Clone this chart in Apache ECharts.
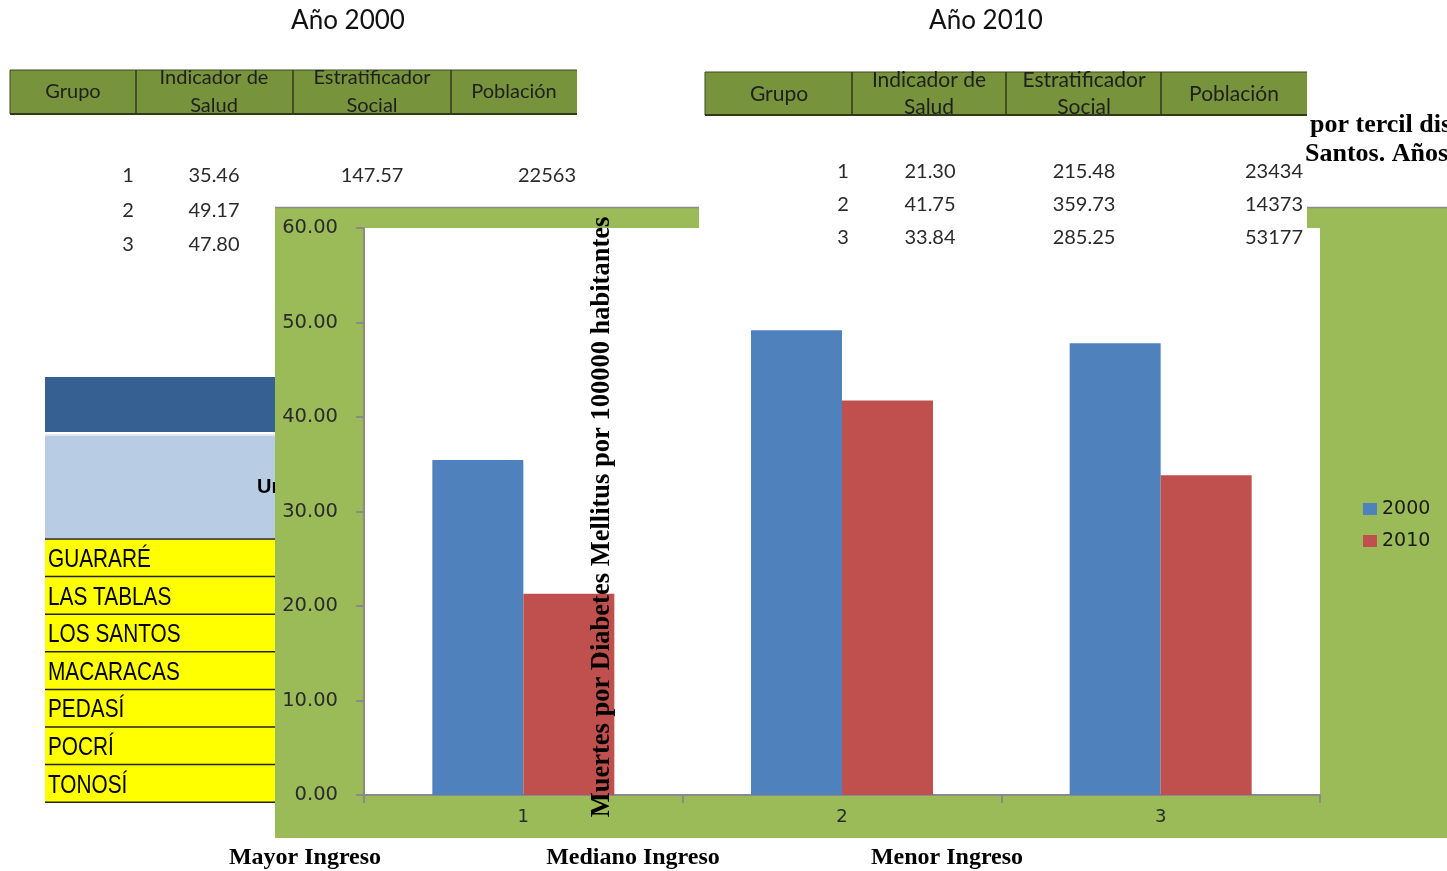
<!DOCTYPE html>
<html>
<head>
<meta charset="utf-8">
<title>Muertes por Diabetes Mellitus por tercil de ingreso</title>
<script src="https://cdn.jsdelivr.net/npm/echarts@6/dist/echarts.min.js"></script>
<style>
  html, body { margin: 0; padding: 0; background: #ffffff; }
  #chart { width: 1447px; height: 871px; }
</style>
</head>
<body>
<div id="chart"></div>
<script>
// Income terciles (groups) and the health indicator per year
const grupos = ['1', '2', '3'];
const anos = ['2000', '2010'];
const indicador2000 = [35.46, 49.17, 47.80];
const indicador2010 = [21.30, 41.75, 33.84];
const etiquetasIngreso = ['Mayor Ingreso', 'Mediano Ingreso', 'Menor Ingreso'];

// Table headers and rows shown above the chart
const encabezados = [['Grupo'], ['Indicador de', 'Salud'], ['Estratificador', 'Social'], ['Población']];
const tabla2000 = [
  ['1', '35.46', '147.57', '22563'],
  ['2', '49.17'],
  ['3', '47.80']
];
const tabla2010 = [
  ['1', '21.30', '215.48', '23434'],
  ['2', '41.75', '359.73', '14373'],
  ['3', '33.84', '285.25', '53177']
];
const distritos = ['GUARARÉ', 'LAS TABLAS', 'LOS SANTOS', 'MACARACAS', 'PEDASÍ', 'POCRÍ', 'TONOSÍ'];

const AZUL = '#4f81bd', ROJO = '#c0504d', VERDE = '#9bbb59', VERDE_OSC = '#77933c';
const SANS = 'Lato, "Open Sans", sans-serif';
const SERIF = '"Liberation Serif", "DejaVu Serif", serif';
const EJE = '"DejaVu Sans", Verdana, sans-serif';

function txt(x, y, text, font, opts) {
  opts = opts || {};
  return {
    type: 'text', x: x, y: y, z: opts.z != null ? opts.z : 5,
    rotation: opts.rotation || 0, scaleX: opts.scaleX || 1,
    style: {
      text: text, font: font, fill: opts.fill || '#1a1a1a',
      textAlign: opts.align || 'center', align: opts.align || 'center',
      textVerticalAlign: 'middle', verticalAlign: 'middle'
    }
  };
}
function rect(x, y, w, h, fill, z, stroke, lw) {
  return {
    type: 'rect', z: z, shape: { x: x, y: y, width: w, height: h },
    style: { fill: fill, stroke: stroke || null, lineWidth: lw || 0 }
  };
}
function line(x1, y1, x2, y2, color, lw, z) {
  return {
    type: 'line', z: z, shape: { x1: x1, y1: y1, x2: x2, y2: y2 },
    style: { stroke: color, lineWidth: lw }
  };
}

// Header band of a small data table
function cabecera(x0, y0, x1, y1, divs, centers, yTop, yMid, yBot, fs, z) {
  const els = [rect(x0, y0, x1 - x0, y1 - y0, VERDE_OSC, z)];
  els.push(line(x0, y0, x1, y0, '#3d4d20', 1, z + 1));
  els.push(line(x0, y1, x1, y1, '#2e3a18', 2, z + 3));
  els.push(line(x0, y0, x0, y1, '#3d4d20', 1, z + 1));
  divs.forEach(d => els.push(line(d, y0, d, y1, '#2e3a18', 1.5, z + 1)));
  encabezados.forEach((h, i) => {
    if (h.length === 1) {
      els.push(txt(centers[i], yMid, h[0], fs + 'px ' + SANS, { z: z + 1, fill: '#1f1f1f' }));
    } else {
      els.push(txt(centers[i], yTop, h[0], fs + 'px ' + SANS, { z: z + 1, fill: '#1f1f1f' }));
      els.push(txt(centers[i], yBot, h[1], fs + 'px ' + SANS, { z: z + 1, fill: '#1f1f1f' }));
    }
  });
  // header text is cut by the lower border
  els.push(rect(x0, y1 + 1, x1 - x0, 9, '#ffffff', z + 2));
  return els;
}

const graficos = [];

// Chart backdrop
graficos.push(rect(275, 208, 1172, 630, VERDE, -10));
graficos.push(line(275, 207.5, 1447, 207.5, '#8c8c8c', 1.5, -9));

// Year titles
graficos.push(txt(348, 21, 'Año 2000', '26px ' + SANS, { fill: '#111' }));
graficos.push(txt(986, 21, 'Año 2010', '26px ' + SANS, { fill: '#111' }));

// Table 2000
cabecera(10, 70, 577, 114, [136, 293, 451], [73, 214, 372, 514], 78, 92, 106, 20, 2)
  .forEach(e => graficos.push(e));
const cols2000 = [128, 214, 372, 547];
const filas2000 = [176, 211, 245];
tabla2000.forEach((fila, r) => fila.forEach((v, c) => {
  graficos.push(txt(cols2000[c], filas2000[r], v, '20px ' + SANS, { z: -20, fill: '#2a2a2a' }));
}));

// White panel carrying table 2010
graficos.push(rect(699, 60, 608, 168, '#ffffff', 1));
cabecera(705, 72, 1307, 115, [852, 1006, 1161], [779, 929, 1084, 1234], 80, 94, 107, 21, 3)
  .forEach(e => graficos.push(e));
const cols2010 = [843, 930, 1084, 1303];
const filas2010 = [172, 205, 238];
tabla2010.forEach((fila, r) => fila.forEach((v, c) => {
  graficos.push(txt(cols2010[c], filas2010[r], v, '20px ' + SANS,
    { z: 10, fill: '#2a2a2a', align: c === 3 ? 'right' : 'center' }));
}));

// Caption fragment on the right edge
graficos.push(txt(1310, 125, 'por tercil dis', 'bold 26px ' + SERIF, { align: 'left', fill: '#000', z: 6 }));
graficos.push(txt(1305, 154, 'Santos. Años', 'bold 26px ' + SERIF, { align: 'left', fill: '#000', z: 6 }));

// District table at the lower left
graficos.push(rect(45, 377, 230, 55, '#366092', -20));
graficos.push(rect(45, 436, 230, 102, '#b8cce4', -20));
graficos.push(line(45, 435, 275, 435, '#dfe7f1', 2, -19));
graficos.push(txt(257, 487, 'Ur', 'bold 20px "Liberation Sans", Arial, sans-serif', { align: 'left', z: -19, fill: '#000' }));
const altoFila = 37.6;
distritos.forEach((d, i) => {
  const y = 539 + i * altoFila;
  graficos.push(rect(45, y, 230, altoFila, '#ffff00', -20));
  graficos.push(line(45, y, 275, y, '#222', 1.5, -19));
  graficos.push(txt(48, y + altoFila / 2 + 2, d, '26px "Liberation Sans", Arial, sans-serif',
    { align: 'left', z: -19, fill: '#000', scaleX: 0.8 }));
});
graficos.push(line(45, 539 + 7 * altoFila, 275, 539 + 7 * altoFila, '#222', 1.5, -19));

// Vertical axis title drawn across the chart
graficos.push(txt(602, 517, 'Muertes por Diabetes Mellitus por 100000 habitantes', 'bold 26.5px ' + SERIF,
  { rotation: Math.PI / 2, fill: '#000', z: 100 }));

// Income labels under the chart
const xIngreso = [305, 633, 947];
etiquetasIngreso.forEach((t, i) => graficos.push(txt(xIngreso[i], 858, t, 'bold 24px ' + SERIF, { fill: '#000' })));

const chart = echarts.init(document.getElementById('chart'), null, { renderer: 'canvas' });
chart.setOption({
  animation: false,
  backgroundColor: '#ffffff',
  grid: {
    left: 364, top: 228, right: 127, bottom: 76,
    show: true, backgroundColor: '#ffffff', borderWidth: 0
  },
  legend: {
    data: anos, orient: 'vertical', left: 1358, top: 494,
    icon: 'rect', itemWidth: 14, itemHeight: 12, itemGap: 12,
    textStyle: { fontSize: 19, fontFamily: EJE, color: '#1a1a1a', lineHeight: 20 }
  },
  xAxis: {
    type: 'category', data: grupos,
    axisLine: { lineStyle: { color: '#8a8a8a', width: 2 } },
    axisTick: { show: true, length: 8, lineStyle: { color: '#8a8a8a', width: 2 } },
    axisLabel: { margin: 13, fontSize: 18, fontFamily: EJE, color: '#2a2a2a' }
  },
  yAxis: {
    type: 'value', min: 0, max: 60, interval: 10,
    axisLine: { show: true, lineStyle: { color: '#8a8a8a', width: 2 } },
    axisTick: { show: true, length: 8, lineStyle: { color: '#8a8a8a', width: 2 } },
    splitLine: { show: false },
    axisLabel: {
      margin: 26, fontSize: 19.5, fontFamily: EJE, color: '#2a2a2a',
      formatter: v => v.toFixed(2)
    }
  },
  series: [
    { name: anos[0], type: 'bar', data: indicador2000, barWidth: 91, barGap: '0%', itemStyle: { color: AZUL } },
    { name: anos[1], type: 'bar', data: indicador2010, barWidth: 91, barGap: '0%', itemStyle: { color: ROJO } }
  ],
  graphic: { elements: graficos }
});
</script>
</body>
</html>
